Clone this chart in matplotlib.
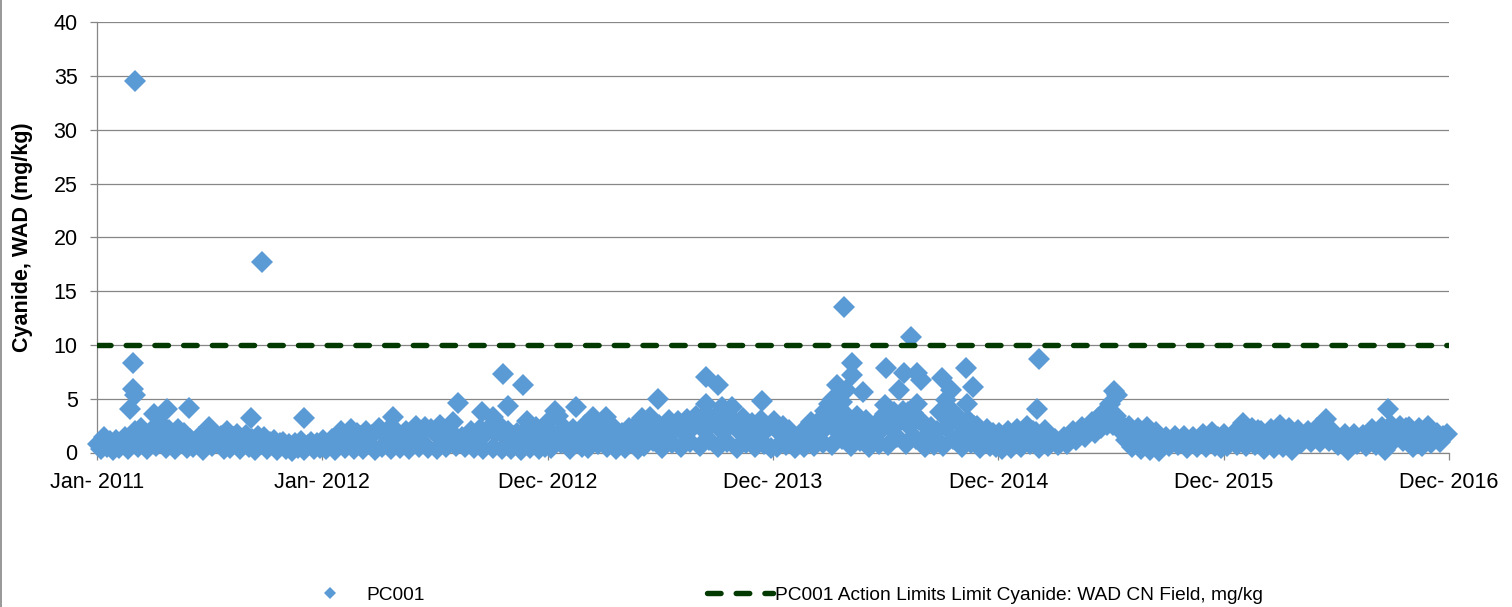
import pandas as pd
import matplotlib
matplotlib.use('Agg')
import matplotlib.pyplot as plt
from matplotlib.lines import Line2D

plt.rcParams['font.family'] = ['Liberation Sans', 'DejaVu Sans']

# routine samples, one value every 5 days starting 2011-01-02
band_2011 = [0.8, 0.3, 1.4, 0.5, 1.1, 0.2,
             1.2, 0.4, 0.9, 1.4, 0.3, 1.3,
             2.0, 0.5, 2.3, 1.2, 0.3, 1.8,
             2.2, 0.6, 1.5, 2.6, 0.4, 2.1,
             1.4, 0.3, 2.2, 1.0, 1.8, 0.4,
             1.3, 0.5, 1.0, 1.4, 0.2, 1.2,
             2.4, 0.6, 1.6, 0.9, 1.5, 0.3,
             2.0, 0.4, 1.4, 1.7, 0.3, 1.2,
             1.6, 0.5, 1.3, 0.2, 1.5, 0.8,
             1.4, 0.3, 1.0, 1.2, 0.2, 0.9,
             1.0, 0.3, 0.8, 0.1, 0.9, 0.4,
             1.1, 0.2, 0.7, 1.0, 0.3, 0.9, 0.4]
band_2012 = [1.2, 0.3, 0.9, 1.3, 0.2, 1.0,
             2.0, 0.4, 1.4, 2.2, 0.3, 1.8,
             1.5, 0.3, 2.0, 0.8, 1.6, 0.2,
             2.3, 0.5, 1.6, 2.1, 0.3, 1.4,
             1.9, 0.4, 1.2, 2.0, 0.3, 1.5,
             2.5, 0.5, 1.8, 2.4, 0.4, 2.2,
             1.9, 0.3, 2.6, 1.4, 0.5, 2.0,
             1.2, 0.6, 1.0, 1.4, 0.5, 0.9,
             2.0, 0.4, 1.6, 2.2, 0.3, 1.9,
             2.4, 0.4, 1.8, 2.6, 0.3, 1.5,
             2.0, 0.3, 1.5, 1.8, 0.2, 1.6,
             2.2, 0.4, 1.5, 2.4, 0.3, 1.7, 0.5]
band_2013 = [2.8, 0.4, 1.6, 3.4, 0.9, 2.3,
             1.4, 0.3, 2.2, 1.0, 1.8, 0.5,
             2.6, 0.4, 1.5, 3.0, 0.8, 2.0,
             2.8, 0.5, 1.6, 2.4, 0.3, 1.2,
             1.8, 0.4, 2.3, 1.1, 1.6, 0.3,
             3.0, 0.6, 2.0, 3.3, 1.1, 2.5,
             2.6, 0.4, 1.7, 3.0, 0.9, 2.2,
             2.9, 0.5, 1.8, 3.1, 1.0, 2.4,
             3.4, 0.6, 2.2, 3.6, 1.2, 2.7,
             3.3, 0.5, 2.1, 3.5, 1.0, 2.6,
             3.0, 0.4, 1.9, 3.2, 0.9, 2.4,
             2.7, 0.5, 1.6, 3.0, 0.8, 2.2, 0.4]
band_2014 = [2.9, 0.5, 1.8, 2.5, 0.7, 2.1,
             1.6, 0.4, 1.2, 1.8, 0.5, 1.4,
             2.8, 0.6, 1.7, 3.0, 0.9, 2.4,
             3.4, 0.7, 2.2, 3.6, 1.3, 2.8,
             3.3, 0.6, 2.1, 3.4, 1.1, 2.6,
             3.0, 0.5, 1.8, 2.6, 0.8, 2.2,
             3.6, 0.7, 2.3, 3.8, 1.4, 2.9,
             3.9, 0.8, 2.5, 3.7, 1.3, 3.0,
             2.8, 0.5, 1.7, 2.4, 0.7, 2.0,
             3.8, 0.6, 2.4, 4.0, 1.3, 3.0,
             3.2, 0.5, 2.0, 3.0, 0.9, 2.5,
             2.5, 0.4, 1.6, 2.2, 0.6, 1.8, 0.5]
band_2015 = [1.8, 0.3, 1.2, 2.0, 0.4, 1.4,
             2.2, 0.5, 1.5, 2.5, 0.8, 2.0,
             1.9, 0.4, 1.3, 2.1, 0.6, 1.4,
             1.3, 0.7, 1.0, 1.4, 0.8, 1.2,
             2.0, 1.2, 1.6, 2.4, 1.4, 2.2,
             2.8, 1.8, 3.2, 2.3, 3.8, 2.6,
             4.5, 2.6, 3.4, 2.2, 2.6, 1.2,
             2.5, 0.5, 1.6, 2.3, 0.3, 1.4,
             2.4, 0.2, 1.3, 1.9, 0.1, 1.2,
             1.4, 0.6, 1.1, 1.5, 0.7, 1.0,
             1.5, 0.4, 1.0, 1.4, 0.5, 1.2,
             1.7, 0.5, 1.2, 1.9, 0.6, 1.4, 0.4]
band_2016 = [1.7, 0.6, 1.2, 1.8, 0.7, 1.4,
             2.7, 0.6, 1.8, 2.3, 0.7, 2.1,
             2.0, 0.3, 1.4, 2.2, 0.4, 1.6,
             2.6, 0.5, 1.6, 2.3, 0.2, 1.5,
             2.1, 0.9, 1.5, 2.0, 1.0, 1.7,
             2.3, 1.0, 1.8, 3.1, 1.1, 2.0,
             1.6, 0.7, 1.2, 1.7, 0.2, 1.3,
             1.7, 0.8, 1.3, 1.6, 0.6, 1.5,
             2.2, 0.7, 1.5, 2.4, 0.2, 1.8,
             2.6, 1.2, 1.9, 2.5, 1.1, 2.3,
             2.4, 0.5, 1.6, 2.3, 0.6, 1.9,
             2.5, 0.9, 1.6, 1.8, 1.0, 1.5, 1.7]

# higher individual results
spike_dates = ['2011-02-23', '2011-03-01', '2011-03-01', '2011-03-04', '2011-03-04',
               '2011-04-03', '2011-04-24', '2011-05-30', '2011-09-07', '2011-09-25',
               '2011-12-02',
               '2012-04-24', '2012-07-30', '2012-08-07', '2012-09-16', '2012-10-03',
               '2012-10-20', '2012-10-27', '2012-11-21', '2012-11-27', '2013-01-12',
               '2013-02-15', '2013-03-14', '2013-04-04', '2013-06-01', '2013-06-28',
               '2013-09-13', '2013-09-13', '2013-10-03', '2013-10-09', '2013-10-25',
               '2013-12-13',
               '2014-03-25', '2014-03-31', '2014-04-07', '2014-04-13', '2014-04-21',
               '2014-04-25', '2014-04-29', '2014-05-08', '2014-05-08', '2014-05-26',
               '2014-06-30', '2014-07-02', '2014-07-23', '2014-08-01', '2014-08-07',
               '2014-08-11', '2014-08-21', '2014-08-21', '2014-08-27', '2014-09-30',
               '2014-10-08', '2014-10-14', '2014-10-16', '2014-11-08', '2014-11-11',
               '2014-11-20',
               '2015-03-04', '2015-03-07', '2015-07-07', '2015-07-11',
               '2016-09-23']
spike_values = [4.0, 5.9, 8.3, 34.5, 5.3,
                3.6, 4.0, 4.1, 3.2, 17.7,
                3.2,
                3.3, 2.8, 4.6, 3.8, 3.3,
                7.3, 4.35, 6.3, 2.9, 3.85,
                4.25, 3.3, 3.3, 3.2, 4.95,
                4.5, 7.0, 6.3, 4.25, 4.25,
                4.8,
                3.9, 4.55, 5.0, 6.3, 4.7,
                13.5, 5.8, 8.3, 7.2, 5.65,
                4.4, 7.9, 5.8, 7.4, 3.8,
                10.75, 7.4, 4.5, 6.7, 6.9,
                4.9, 3.6, 5.8, 7.9, 4.55,
                6.1,
                4.0, 8.65, 5.7, 5.3,
                4.0]

limit_dates = ['2011-01-01', '2016-12-30']
limit_values = [10, 10]

tick_dates = ['2011-01-01', '2012-01-01', '2012-12-31', '2013-12-31',
              '2014-12-31', '2015-12-31', '2016-12-30']
tick_labels = ['Jan- 2011', 'Jan- 2012', 'Dec- 2012', 'Dec- 2013',
               'Dec- 2014', 'Dec- 2015', 'Dec- 2016']

band = band_2011 + band_2012 + band_2013 + band_2014 + band_2015 + band_2016
band_dates = pd.date_range('2011-01-02', periods=len(band), freq='5D')
pc_dates = list(band_dates) + list(pd.to_datetime(spike_dates))
pc_values = band + spike_values

fig = plt.figure(figsize=(15.12, 6.07), dpi=100)
ax = fig.add_axes([97 / 1512, 1 - 452.5 / 607, 1352 / 1512, 430.2 / 607])

grey = '#868686'
ax.plot(pc_dates, pc_values, ls='none', marker='D', ms=11.2, mew=0,
        color='#5B9BD5', label='PC001', zorder=3, clip_on=False)
ax.plot(pd.to_datetime(limit_dates), limit_values, color='#023A02', lw=3.9,
        ls=(0, (2.5, 2.8)), dash_capstyle='round', zorder=4,
        label='PC001 Action Limits Limit Cyanide: WAD CN Field, mg/kg')

ax.set_ylim(0, 40)
ax.set_yticks(range(0, 41, 5))
ax.set_xlim(pd.Timestamp(tick_dates[0]), pd.Timestamp(tick_dates[-1]))
ax.set_xticks(pd.to_datetime(tick_dates))
ax.set_xticklabels(tick_labels)
ax.yaxis.grid(True, color=grey, lw=0.9)
ax.set_axisbelow(True)

for s in ['top', 'right']:
    ax.spines[s].set_visible(False)
for s in ['left', 'bottom']:
    ax.spines[s].set_color(grey)
    ax.spines[s].set_linewidth(0.9)
ax.tick_params(axis='both', length=5, width=0.9, color=grey, labelsize=15.5)
ax.tick_params(axis='y', pad=9)
ax.tick_params(axis='x', pad=9)

ax.set_ylabel('Cyanide, WAD (mg/kg)', fontsize=15.5, fontweight='bold')
ax.yaxis.set_label_coords(-0.0475, 0.5)

h1, h2 = ax.get_legend_handles_labels()[0]
fig.legend(handles=[h1], loc='center left', bbox_to_anchor=(320.5 / 1512, 0.02),
           frameon=False, fontsize=13.8, borderpad=0, borderaxespad=0,
           handlelength=1.0, handletextpad=1.4, markerscale=0.55)
fig.legend(handles=[h2], loc='center left', bbox_to_anchor=(707 / 1512, 0.02),
           frameon=False, fontsize=13.8, borderpad=0, borderaxespad=0,
           handlelength=3.45, handletextpad=0.12)

# chart area border on the left
fig.add_artist(Line2D([0.0008, 0.0008], [0, 1], color=grey, lw=1.2))

fig.savefig('out.png', dpi=100)
